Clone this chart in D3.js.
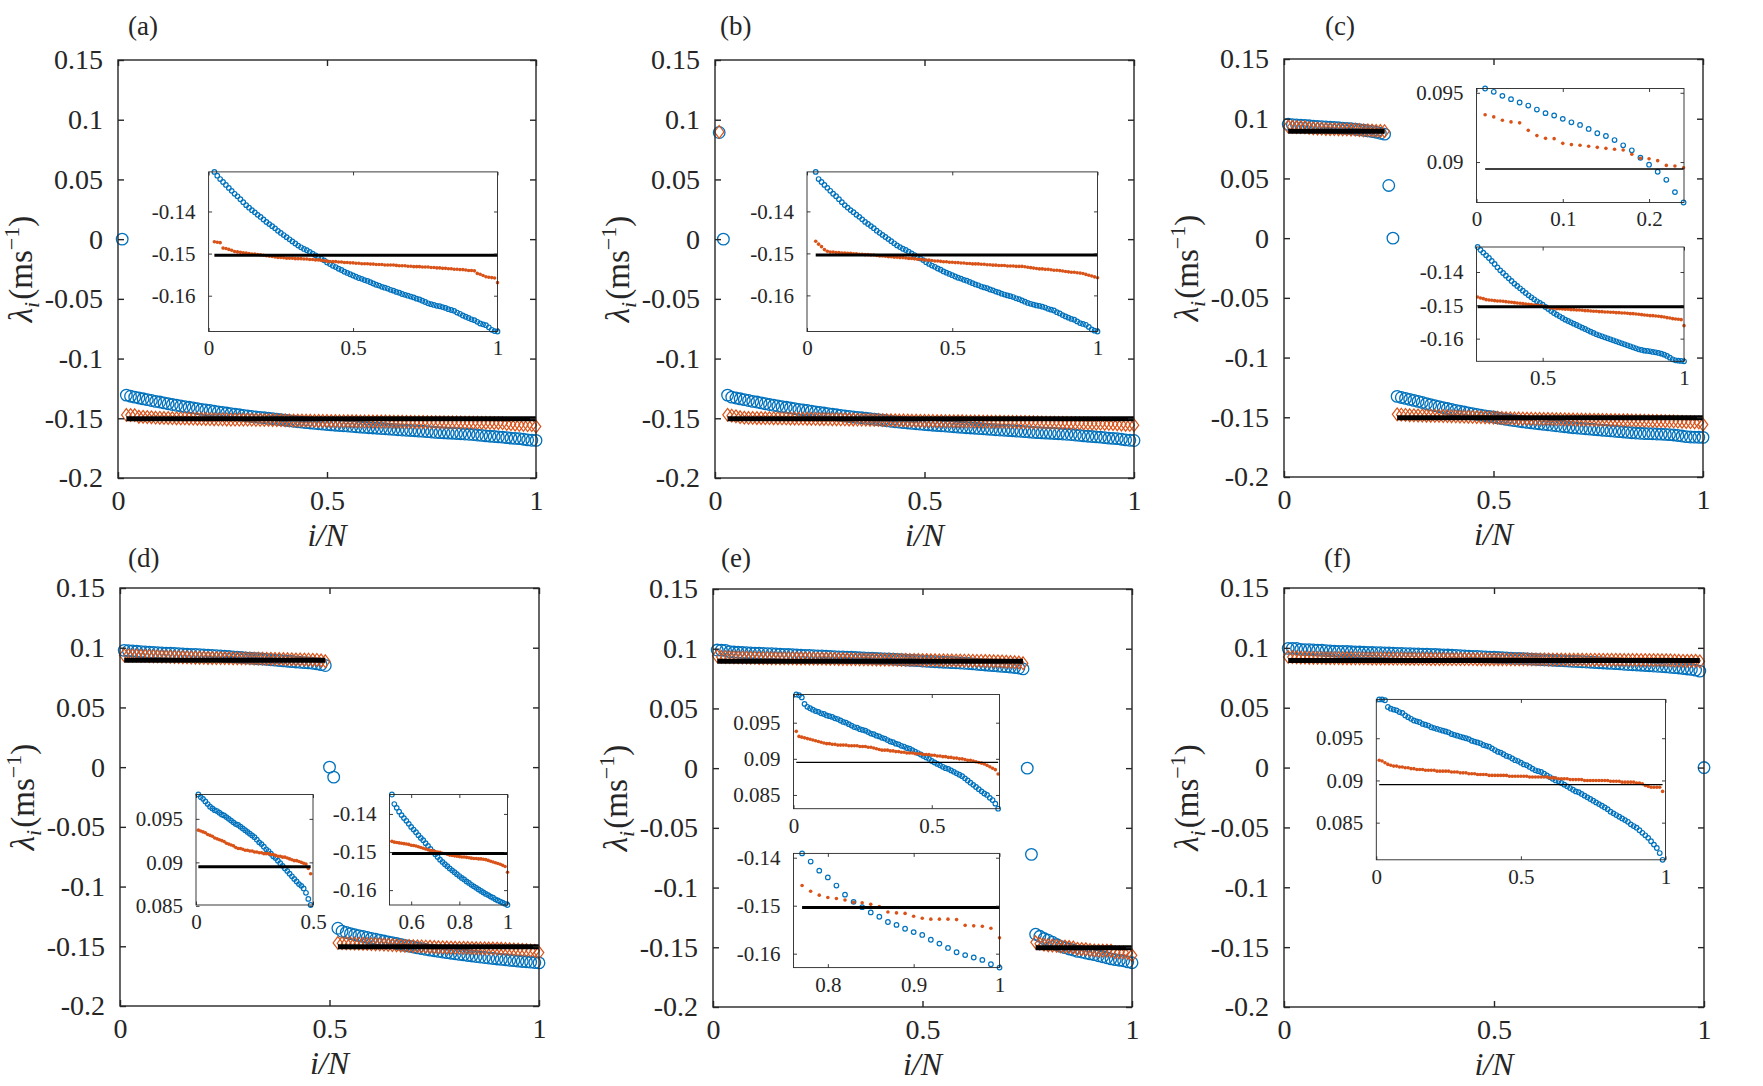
<!DOCTYPE html>
<html><head><meta charset="utf-8">
<script src="https://cdn.jsdelivr.net/npm/d3@7"></script>
<style>
body{margin:0;background:#fff;}
svg{display:block;font-family:'Liberation Serif', 'DejaVu Serif', serif;}
svg text{font-family:'Liberation Serif', 'DejaVu Serif', serif !important;}
</style></head><body>
<svg id="chart" width="1763" height="1086"></svg>
<script>
// ---------------- DATA ----------------
const N = 100;                       // number of eigenvalues; x = i/N
const mainYTicks = [0.15, 0.1, 0.05, 0, -0.05, -0.1, -0.15, -0.2];
const mainYTickLabels = ["0.15", "0.1", "0.05", "0", "-0.05", "-0.1", "-0.15", "-0.2"];
const mainXTicks = [0, 0.5, 1];
const mainXTickLabels = ["0", "0.5", "1"];
const panelLabels = ["(a)", "(b)", "(c)", "(d)", "(e)", "(f)"];
const levelPos = 0.0895;   // black reference line, positive branch
const levelNeg = -0.1504;  // black reference line, negative branch

// (a) negative branch, i = 2..100
const aBlueNeg = [-0.1306,-0.1315,-0.1323,-0.1330,-0.1337,-0.1344,-0.1351,-0.1358,-0.1364,-0.1371,
-0.1378,-0.1385,-0.1391,-0.1397,-0.1402,-0.1408,-0.1413,-0.1419,-0.1425,-0.1430,
-0.1435,-0.1440,-0.1446,-0.1451,-0.1456,-0.1461,-0.1466,-0.1471,-0.1476,-0.1481,
-0.1485,-0.1489,-0.1492,-0.1496,-0.1500,-0.1504,-0.1508,-0.1512,-0.1516,-0.1521,
-0.1525,-0.1529,-0.1532,-0.1536,-0.1539,-0.1543,-0.1546,-0.1549,-0.1552,-0.1555,
-0.1558,-0.1560,-0.1563,-0.1565,-0.1568,-0.1571,-0.1574,-0.1576,-0.1579,-0.1581,
-0.1583,-0.1586,-0.1588,-0.1591,-0.1593,-0.1596,-0.1598,-0.1600,-0.1602,-0.1604,
-0.1607,-0.1609,-0.1612,-0.1615,-0.1618,-0.1620,-0.1622,-0.1624,-0.1625,-0.1627,
-0.1629,-0.1632,-0.1634,-0.1636,-0.1640,-0.1643,-0.1647,-0.1650,-0.1653,-0.1656,
-0.1658,-0.1662,-0.1666,-0.1668,-0.1670,-0.1675,-0.1681,-0.1684,-0.1685];
const aOrangeNeg = [-0.1472,-0.1473,-0.1474,-0.1487,-0.1488,-0.1490,-0.1492,-0.1495,-0.1496,-0.1497,
-0.1498,-0.1499,-0.1500,-0.1501,-0.1501,-0.1502,-0.1503,-0.1504,-0.1505,-0.1506,
-0.1507,-0.1508,-0.1509,-0.1509,-0.1510,-0.1511,-0.1511,-0.1511,-0.1512,-0.1512,
-0.1512,-0.1513,-0.1513,-0.1514,-0.1514,-0.1515,-0.1515,-0.1516,-0.1517,-0.1518,
-0.1519,-0.1519,-0.1519,-0.1520,-0.1520,-0.1521,-0.1521,-0.1522,-0.1522,-0.1523,
-0.1523,-0.1524,-0.1524,-0.1524,-0.1525,-0.1525,-0.1526,-0.1526,-0.1526,-0.1527,
-0.1527,-0.1527,-0.1527,-0.1528,-0.1529,-0.1529,-0.1529,-0.1530,-0.1530,-0.1531,
-0.1531,-0.1531,-0.1532,-0.1532,-0.1532,-0.1533,-0.1533,-0.1534,-0.1534,-0.1535,
-0.1535,-0.1536,-0.1536,-0.1537,-0.1537,-0.1538,-0.1538,-0.1539,-0.1540,-0.1540,
-0.1541,-0.1547,-0.1549,-0.1552,-0.1555,-0.1556,-0.1557,-0.1558,-0.1569];
const aExtraI = [1];     // isolated blue eigenvalues (index i)
const aExtraV = [0];

// (b) positive branch i = 1, negative branch i = 3..100
const bBluePos = [0.0893];
const bOrangePos = [0.0898];
const bBlueNeg = [-0.1306,-0.1323,-0.1330,-0.1337,-0.1344,-0.1351,-0.1358,-0.1364,-0.1371,-0.1378,
-0.1385,-0.1391,-0.1397,-0.1402,-0.1408,-0.1413,-0.1419,-0.1425,-0.1430,-0.1435,
-0.1440,-0.1446,-0.1451,-0.1456,-0.1461,-0.1466,-0.1471,-0.1476,-0.1481,-0.1485,
-0.1489,-0.1492,-0.1496,-0.1500,-0.1504,-0.1508,-0.1512,-0.1516,-0.1521,-0.1525,
-0.1529,-0.1532,-0.1536,-0.1539,-0.1543,-0.1546,-0.1549,-0.1552,-0.1555,-0.1558,
-0.1560,-0.1563,-0.1565,-0.1568,-0.1571,-0.1574,-0.1576,-0.1579,-0.1581,-0.1583,
-0.1586,-0.1588,-0.1591,-0.1593,-0.1596,-0.1598,-0.1600,-0.1602,-0.1604,-0.1607,
-0.1609,-0.1612,-0.1615,-0.1618,-0.1620,-0.1622,-0.1624,-0.1625,-0.1627,-0.1629,
-0.1632,-0.1634,-0.1636,-0.1640,-0.1643,-0.1647,-0.1650,-0.1653,-0.1656,-0.1658,
-0.1662,-0.1666,-0.1668,-0.1670,-0.1675,-0.1681,-0.1684,-0.1686];
const bOrangeNeg = [-0.1471,-0.1478,-0.1484,-0.1491,-0.1495,-0.1497,-0.1497,-0.1498,-0.1498,-0.1499,
-0.1499,-0.1500,-0.1500,-0.1501,-0.1501,-0.1502,-0.1502,-0.1503,-0.1503,-0.1504,
-0.1504,-0.1505,-0.1506,-0.1506,-0.1507,-0.1508,-0.1508,-0.1509,-0.1509,-0.1510,
-0.1510,-0.1511,-0.1512,-0.1512,-0.1513,-0.1514,-0.1514,-0.1515,-0.1516,-0.1516,
-0.1517,-0.1518,-0.1518,-0.1519,-0.1520,-0.1520,-0.1521,-0.1521,-0.1522,-0.1522,
-0.1523,-0.1523,-0.1524,-0.1524,-0.1525,-0.1525,-0.1525,-0.1526,-0.1526,-0.1527,
-0.1527,-0.1528,-0.1528,-0.1529,-0.1529,-0.1529,-0.1530,-0.1530,-0.1530,-0.1531,
-0.1531,-0.1531,-0.1532,-0.1533,-0.1534,-0.1535,-0.1536,-0.1537,-0.1537,-0.1538,
-0.1538,-0.1539,-0.1540,-0.1540,-0.1541,-0.1542,-0.1543,-0.1544,-0.1545,-0.1545,
-0.1546,-0.1547,-0.1548,-0.1550,-0.1552,-0.1554,-0.1556,-0.1558];
const bExtraI = [2];
const bExtraV = [0];

// (c) positive branch i = 1..24, negative branch i = 27..100
const cBluePos = [0.09531,0.09507,0.09478,0.09454,0.09430,0.09408,0.09379,0.09353,0.09336,0.09312,
0.09287,0.09268,0.09239,0.09208,0.09188,0.09159,0.09121,0.09085,0.09031,0.08981,
0.08930,0.08872,0.08783,0.08708];
const cOrangePos = [0.09341,0.09326,0.09302,0.09290,0.09283,0.09229,0.09191,0.09171,0.09169,0.09135,
0.09126,0.09121,0.09114,0.09106,0.09099,0.09092,0.09087,0.09056,0.09027,0.09024,
0.09010,0.08976,0.08971,0.08959];
const cBlueNeg = [-0.1325,-0.1334,-0.1342,-0.1350,-0.1358,-0.1367,-0.1376,-0.1386,-0.1395,-0.1403,
-0.1411,-0.1419,-0.1427,-0.1435,-0.1442,-0.1449,-0.1456,-0.1463,-0.1470,-0.1476,
-0.1482,-0.1488,-0.1493,-0.1498,-0.1505,-0.1511,-0.1517,-0.1523,-0.1528,-0.1533,
-0.1538,-0.1543,-0.1547,-0.1551,-0.1555,-0.1559,-0.1563,-0.1567,-0.1571,-0.1575,
-0.1579,-0.1583,-0.1587,-0.1590,-0.1593,-0.1596,-0.1599,-0.1602,-0.1605,-0.1608,
-0.1611,-0.1614,-0.1617,-0.1620,-0.1623,-0.1626,-0.1629,-0.1632,-0.1634,-0.1636,
-0.1637,-0.1638,-0.1640,-0.1641,-0.1643,-0.1645,-0.1648,-0.1652,-0.1657,-0.1662,
-0.1665,-0.1666,-0.1667,-0.1668];
const cOrangeNeg = [-0.1475,-0.1478,-0.1480,-0.1483,-0.1484,-0.1485,-0.1486,-0.1487,-0.1487,-0.1488,
-0.1489,-0.1490,-0.1491,-0.1492,-0.1493,-0.1494,-0.1495,-0.1496,-0.1497,-0.1498,
-0.1499,-0.1500,-0.1501,-0.1502,-0.1504,-0.1506,-0.1508,-0.1509,-0.1510,-0.1510,
-0.1511,-0.1512,-0.1512,-0.1513,-0.1513,-0.1514,-0.1514,-0.1515,-0.1516,-0.1516,
-0.1517,-0.1518,-0.1518,-0.1519,-0.1519,-0.1520,-0.1520,-0.1521,-0.1521,-0.1522,
-0.1522,-0.1523,-0.1523,-0.1524,-0.1525,-0.1525,-0.1526,-0.1527,-0.1528,-0.1529,
-0.1530,-0.1531,-0.1531,-0.1532,-0.1533,-0.1534,-0.1535,-0.1537,-0.1538,-0.1540,
-0.1541,-0.1542,-0.1543,-0.1561];
const cExtraI = [25, 26];
const cExtraV = [0.0441, 0];

// (d) positive branch i = 1..49, negative branch i = 52..100
const dBluePos = [0.0978,0.0975,0.0973,0.0970,0.0967,0.0964,0.0962,0.0960,0.0959,0.0957,
0.0955,0.0954,0.0952,0.0950,0.0948,0.0946,0.0944,0.0943,0.0941,0.0939,
0.0937,0.0935,0.0933,0.0931,0.0929,0.0926,0.0923,0.0921,0.0918,0.0915,
0.0913,0.0910,0.0907,0.0905,0.0902,0.0899,0.0896,0.0893,0.0890,0.0887,
0.0884,0.0881,0.0878,0.0875,0.0873,0.0870,0.0865,0.0858,0.0851];
const dOrangePos = [0.0937,0.0936,0.0935,0.0934,0.0932,0.0931,0.0930,0.0928,0.0927,0.0926,
0.0925,0.0924,0.0922,0.0921,0.0920,0.0919,0.0917,0.0916,0.0916,0.0915,
0.0914,0.0914,0.0913,0.0913,0.0912,0.0912,0.0911,0.0911,0.0910,0.0910,
0.0910,0.0909,0.0909,0.0908,0.0907,0.0907,0.0906,0.0906,0.0905,0.0904,
0.0903,0.0902,0.0902,0.0901,0.0900,0.0899,0.0898,0.0893,0.0887];
const dBlueNeg = [-0.1349,-0.1374,-0.1384,-0.1394,-0.1403,-0.1411,-0.1418,-0.1426,-0.1434,-0.1441,
-0.1448,-0.1456,-0.1463,-0.1469,-0.1477,-0.1484,-0.1492,-0.1499,-0.1506,-0.1513,
-0.1520,-0.1526,-0.1532,-0.1537,-0.1543,-0.1548,-0.1553,-0.1558,-0.1563,-0.1568,
-0.1572,-0.1577,-0.1581,-0.1586,-0.1590,-0.1594,-0.1598,-0.1602,-0.1606,-0.1610,
-0.1613,-0.1617,-0.1620,-0.1624,-0.1627,-0.1630,-0.1633,-0.1636,-0.1639];
const dOrangeNeg = [-0.1472,-0.1474,-0.1475,-0.1476,-0.1477,-0.1478,-0.1479,-0.1480,-0.1482,-0.1483,
-0.1484,-0.1486,-0.1488,-0.1490,-0.1492,-0.1494,-0.1496,-0.1497,-0.1499,-0.1500,
-0.1501,-0.1503,-0.1504,-0.1506,-0.1508,-0.1509,-0.1510,-0.1511,-0.1512,-0.1513,
-0.1513,-0.1514,-0.1515,-0.1516,-0.1517,-0.1517,-0.1518,-0.1518,-0.1519,-0.1520,
-0.1522,-0.1524,-0.1526,-0.1528,-0.1530,-0.1532,-0.1535,-0.1538,-0.1553];
const dExtraI = [50, 51];
const dExtraV = [0, -0.0084];

// (e) positive branch i = 1..74, negative branch i = 77..100
const eBluePos = [0.0989,0.0988,0.0985,0.0976,0.0972,0.0970,0.0968,0.0966,0.0965,0.0963,
0.0962,0.0960,0.0959,0.0958,0.0956,0.0955,0.0953,0.0951,0.0950,0.0948,
0.0946,0.0944,0.0943,0.0941,0.0940,0.0939,0.0937,0.0935,0.0934,0.0932,
0.0931,0.0929,0.0928,0.0926,0.0924,0.0923,0.0921,0.0920,0.0918,0.0917,
0.0915,0.0914,0.0912,0.0910,0.0908,0.0906,0.0904,0.0902,0.0900,0.0897,
0.0895,0.0893,0.0891,0.0889,0.0887,0.0886,0.0884,0.0882,0.0880,0.0878,
0.0876,0.0873,0.0870,0.0867,0.0864,0.0861,0.0858,0.0855,0.0852,0.0850,
0.0846,0.0843,0.0838,0.0831];
const eOrangePos = [0.0938,0.0931,0.0930,0.0929,0.0928,0.0927,0.0926,0.0925,0.0924,0.0923,
0.0922,0.0921,0.0921,0.0920,0.0920,0.0919,0.0919,0.0919,0.0919,0.0918,
0.0918,0.0918,0.0918,0.0917,0.0917,0.0917,0.0916,0.0916,0.0915,0.0914,
0.0913,0.0912,0.0912,0.0912,0.0911,0.0911,0.0910,0.0910,0.0909,0.0909,
0.0908,0.0908,0.0908,0.0907,0.0907,0.0907,0.0906,0.0906,0.0906,0.0905,
0.0905,0.0904,0.0904,0.0903,0.0903,0.0902,0.0902,0.0901,0.0901,0.0900,
0.0900,0.0899,0.0898,0.0898,0.0897,0.0896,0.0895,0.0894,0.0893,0.0891,
0.0889,0.0887,0.0885,0.0879];
const eBlueNeg = [-0.1391,-0.1408,-0.1427,-0.1441,-0.1458,-0.1477,-0.1492,-0.1503,-0.1514,-0.1523,
-0.1534,-0.1540,-0.1548,-0.1555,-0.1561,-0.1571,-0.1579,-0.1588,-0.1597,-0.1603,
-0.1608,-0.1613,-0.1622,-0.1629];
const eOrangeNeg = [-0.1458,-0.1470,-0.1478,-0.1483,-0.1485,-0.1488,-0.1493,-0.1494,-0.1497,-0.1502,
-0.1513,-0.1515,-0.1516,-0.1522,-0.1526,-0.1528,-0.1528,-0.1528,-0.1529,-0.1541,
-0.1542,-0.1543,-0.1547,-0.1567];
const eExtraI = [75, 76];
const eExtraV = [0, -0.0722];

// (f) positive branch i = 1..99
const fBluePos = [0.0996,0.0996,0.0995,0.0987,0.0985,0.0984,0.0983,0.0981,0.0980,0.0977,
0.0975,0.0973,0.0971,0.0970,0.0969,0.0967,0.0966,0.0965,0.0963,0.0962,
0.0961,0.0960,0.0959,0.0958,0.0957,0.0955,0.0954,0.0953,0.0952,0.0951,
0.0950,0.0949,0.0947,0.0946,0.0945,0.0944,0.0942,0.0941,0.0940,0.0938,
0.0936,0.0934,0.0933,0.0931,0.0929,0.0928,0.0926,0.0924,0.0923,0.0921,
0.0919,0.0918,0.0916,0.0914,0.0912,0.0911,0.0910,0.0908,0.0906,0.0904,
0.0902,0.0900,0.0899,0.0897,0.0895,0.0893,0.0891,0.0889,0.0887,0.0886,
0.0884,0.0882,0.0880,0.0878,0.0876,0.0874,0.0872,0.0870,0.0868,0.0866,
0.0863,0.0861,0.0859,0.0857,0.0855,0.0853,0.0851,0.0848,0.0846,0.0844,
0.0841,0.0838,0.0835,0.0832,0.0828,0.0824,0.0820,0.0814,0.0806];
const fOrangePos = [0.0924,0.0923,0.0921,0.0919,0.0918,0.0917,0.0917,0.0916,0.0916,0.0915,
0.0915,0.0914,0.0914,0.0913,0.0913,0.0913,0.0912,0.0912,0.0912,0.0912,
0.0911,0.0911,0.0911,0.0911,0.0911,0.0910,0.0910,0.0910,0.0909,0.0909,
0.0909,0.0908,0.0908,0.0908,0.0907,0.0907,0.0907,0.0907,0.0906,0.0906,
0.0906,0.0906,0.0906,0.0906,0.0906,0.0905,0.0905,0.0905,0.0905,0.0905,
0.0905,0.0905,0.0904,0.0904,0.0904,0.0904,0.0904,0.0904,0.0904,0.0903,
0.0903,0.0903,0.0902,0.0902,0.0902,0.0902,0.0901,0.0901,0.0901,0.0901,
0.0901,0.0900,0.0900,0.0900,0.0900,0.0900,0.0900,0.0900,0.0900,0.0900,
0.0899,0.0899,0.0899,0.0899,0.0898,0.0898,0.0898,0.0898,0.0898,0.0897,
0.0897,0.0896,0.0894,0.0893,0.0892,0.0892,0.0892,0.0892,0.0887];
const fExtraI = [100];
const fExtraV = [0];

// ---------------- LAYOUT ----------------
const BLUE = "#0072BD", ORANGE = "#D95319", INK = "#262626";
const FONT = "Liberation Serif, DejaVu Serif, serif";

const panels = [
  { box:[118,60,536,478], lab:[128,35],
    groups:[{start:2, blue:aBlueNeg, orange:aOrangeNeg, level:levelNeg}],
    extraI:aExtraI, extraV:aExtraV,
    insets:[{box:[208.6,171.9,497.5,331.5], g:0, xDom:[0,1], xT:[0,0.5,1], xL:["0","0.5","1"],
             yT:[-0.14,-0.15,-0.16], yL:["-0.14","-0.15","-0.16"], lw:3}] },
  { box:[715,60,1134,478], lab:[720,35],
    groups:[{start:1, blue:bBluePos, orange:bOrangePos, level:null},
            {start:3, blue:bBlueNeg, orange:bOrangeNeg, level:levelNeg}],
    extraI:bExtraI, extraV:bExtraV,
    insets:[{box:[807,171.9,1097.5,331.5], g:1, xDom:[0,1], xT:[0,0.5,1], xL:["0","0.5","1"],
             yT:[-0.14,-0.15,-0.16], yL:["-0.14","-0.15","-0.16"], lw:3}] },
  { box:[1284,59,1703,477], lab:[1325,35],
    groups:[{start:1, blue:cBluePos, orange:cOrangePos, level:levelPos},
            {start:27, blue:cBlueNeg, orange:cOrangeNeg, level:levelNeg}],
    extraI:cExtraI, extraV:cExtraV,
    insets:[{box:[1476.5,88.5,1684,202.5], g:0, xDom:[0,0.2405], xT:[0,0.1,0.2], xL:["0","0.1","0.2"],
             yT:[0.09,0.095], yL:["0.09","0.095"], lw:1.3},
            {box:[1476.5,247,1684,361.3], g:1, xDom:[0.266,1], xT:[0.5,1], xL:["0.5","1"],
             yT:[-0.14,-0.15,-0.16], yL:["-0.14","-0.15","-0.16"], lw:3}] },
  { box:[120,588,539,1006], lab:[128,567],
    groups:[{start:1, blue:dBluePos, orange:dOrangePos, level:levelPos},
            {start:52, blue:dBlueNeg, orange:dOrangeNeg, level:levelNeg}],
    extraI:dExtraI, extraV:dExtraV,
    insets:[{box:[196,794.5,313,905], g:0, xDom:[0,0.5], xT:[0,0.5], xL:["0","0.5"],
             yT:[0.085,0.09,0.095], yL:["0.085","0.09","0.095"], lw:3},
            {box:[389.5,794.5,507.5,905], g:1, xDom:[0.51,1], xT:[0.6,0.8,1], xL:["0.6","0.8","1"],
             yT:[-0.14,-0.15,-0.16], yL:["-0.14","-0.15","-0.16"], lw:3}] },
  { box:[713,589,1132,1007], lab:[721,567],
    groups:[{start:1, blue:eBluePos, orange:eOrangePos, level:levelPos},
            {start:77, blue:eBlueNeg, orange:eOrangeNeg, level:levelNeg}],
    extraI:eExtraI, extraV:eExtraV,
    insets:[{box:[793.5,694.5,999.5,808.7], g:0, xDom:[0,0.745], xT:[0,0.5], xL:["0","0.5"],
             yT:[0.085,0.09,0.095], yL:["0.085","0.09","0.095"], lw:1.3},
            {box:[793.5,853.4,999.5,967.6], g:1, xDom:[0.76,1], xT:[0.8,0.9,1], xL:["0.8","0.9","1"],
             yT:[-0.14,-0.15,-0.16], yL:["-0.14","-0.15","-0.16"], lw:3}] },
  { box:[1284,588,1704,1007], lab:[1324,567],
    groups:[{start:1, blue:fBluePos, orange:fOrangePos, level:levelPos}],
    extraI:fExtraI, extraV:fExtraV,
    insets:[{box:[1376.3,699.4,1665.5,859.8], g:0, xDom:[0,1], xT:[0,0.5,1], xL:["0","0.5","1"],
             yT:[0.085,0.09,0.095], yL:["0.085","0.09","0.095"], lw:1.3}] }
];

// ---------------- DRAWING ----------------
const svg = d3.select("#chart").attr("font-family", FONT);

function styleAxis(sel, fs, sw) {
  sel.attr("font-family", FONT).attr("font-size", fs);
  sel.select(".domain").remove();
  sel.selectAll(".tick line").attr("stroke", INK).attr("stroke-width", sw);
  sel.selectAll(".tick text").attr("fill", INK);
}

function frame(g, x, y, w, h, o) {
  g.append("g").attr("transform", `translate(0,${h})`)
    .call(d3.axisBottom(x).tickValues(o.xT).tickFormat((d, i) => o.xL[i])
      .tickSizeInner(-o.tick).tickSizeOuter(0).tickPadding(o.xPad))
    .call(s => styleAxis(s, o.fs, o.sw));
  g.append("g")
    .call(d3.axisTop(x).tickValues(o.xT).tickFormat("").tickSizeInner(-o.tick).tickSizeOuter(0))
    .call(s => styleAxis(s, o.fs, o.sw));
  g.append("g")
    .call(d3.axisLeft(y).tickValues(o.yT).tickFormat((d, i) => o.yL[i])
      .tickSizeInner(-o.tick).tickSizeOuter(0).tickPadding(o.yPad))
    .call(s => styleAxis(s, o.fs, o.sw));
  g.append("g").attr("transform", `translate(${w},0)`)
    .call(d3.axisRight(y).tickValues(o.yT).tickFormat("").tickSizeInner(-o.tick).tickSizeOuter(0))
    .call(s => styleAxis(s, o.fs, o.sw));
  g.append("rect").attr("width", w).attr("height", h)
    .attr("fill", "none").attr("stroke", INK).attr("stroke-width", o.sw);
}

const pts = grp => grp.blue.map((v, k) => ({ i: grp.start + k, v }));
const opts = grp => grp.orange.map((v, k) => ({ i: grp.start + k, v }));
const diamond = (w, h) => `M0,${-h}L${w},0L0,${h}L${-w},0Z`;

panels.forEach((P, pi) => {
  const [x0, y0, x1, y1] = P.box;
  const w = x1 - x0, h = y1 - y0;
  const x = d3.scaleLinear().domain([0, 1]).range([0, w]);
  const y = d3.scaleLinear().domain([-0.2, 0.15]).range([h, 0]);
  const g = svg.append("g").attr("transform", `translate(${x0},${y0})`);

  const blueAll = [];
  P.groups.forEach(gr => blueAll.push(...pts(gr)));
  P.extraI.forEach((i, k) => blueAll.push({ i, v: P.extraV[k] }));
  g.append("g").selectAll("circle").data(blueAll).join("circle")
    .attr("cx", d => x(d.i / N)).attr("cy", d => y(d.v)).attr("r", 5.8)
    .attr("fill", "none").attr("stroke", BLUE).attr("stroke-width", 1.3);
  const orAll = [];
  P.groups.forEach(gr => orAll.push(...opts(gr)));
  g.append("g").selectAll("path").data(orAll).join("path")
    .attr("transform", d => `translate(${x(d.i / N)},${y(d.v)})`)
    .attr("d", diamond(4.8, 6.4))
    .attr("fill", "none").attr("stroke", ORANGE).attr("stroke-width", 1.2);
  P.groups.forEach(gr => {
    if (gr.level === null) return;
    g.append("line")
      .attr("x1", x(gr.start / N)).attr("x2", x((gr.start + gr.blue.length - 1) / N))
      .attr("y1", y(gr.level)).attr("y2", y(gr.level))
      .attr("stroke", "#000").attr("stroke-width", 5);
  });

  frame(g, x, y, w, h, { xT: mainXTicks, xL: mainXTickLabels, yT: mainYTicks, yL: mainYTickLabels,
    tick: 6, xPad: 12, yPad: 15, fs: 28, sw: 1.4 });

  // axis titles
  const yl = g.append("text").attr("transform", `translate(-86,${h / 2}) rotate(-90)`)
    .attr("text-anchor", "middle").attr("font-size", 33).attr("fill", INK);
  yl.append("tspan").attr("font-style", "italic").text("λ");
  yl.append("tspan").attr("font-style", "italic").attr("font-size", 22).attr("dy", 7).text("i");
  yl.append("tspan").attr("dy", -7).attr("dx", 2).text("(ms");
  yl.append("tspan").attr("font-size", 22).attr("dy", -13).text("−1");
  yl.append("tspan").attr("dy", 13).text(")");
  g.append("text").attr("x", w / 2).attr("y", h + 68)
    .attr("text-anchor", "middle").attr("font-size", 32).attr("fill", INK).attr("font-style", "italic")
    .text("i/N");

  svg.append("text").attr("x", P.lab[0]).attr("y", P.lab[1]).attr("font-size", 27)
    .attr("fill", INK).text(panelLabels[pi]);

  // insets
  P.insets.forEach(ins => {
    const [ix0, iy0, ix1, iy1] = ins.box;
    const iw = ix1 - ix0, ih = iy1 - iy0;
    const gr = P.groups[ins.g];
    const ix = d3.scaleLinear().domain(ins.xDom).range([0, iw]);
    const iy = d3.scaleLinear().domain(d3.extent(gr.blue)).range([ih, 0]);
    const ig = svg.append("g").attr("transform", `translate(${ix0},${iy0})`);
    ig.append("rect").attr("width", iw).attr("height", ih).attr("fill", "#fff");
    ig.append("g").selectAll("circle").data(pts(gr)).join("circle")
      .attr("cx", d => ix(d.i / N)).attr("cy", d => iy(d.v)).attr("r", 2.3)
      .attr("fill", "none").attr("stroke", BLUE).attr("stroke-width", 1.2);
    ig.append("g").selectAll("circle").data(opts(gr)).join("circle")
      .attr("cx", d => ix(d.i / N)).attr("cy", d => iy(d.v)).attr("r", 1.8)
      .attr("fill", ORANGE);
    ig.append("line")
      .attr("x1", ix(gr.start / N)).attr("x2", ix((gr.start + gr.blue.length - 1) / N))
      .attr("y1", iy(gr.level)).attr("y2", iy(gr.level))
      .attr("stroke", "#000").attr("stroke-width", ins.lw);
    frame(ig, ix, iy, iw, ih, { xT: ins.xT, xL: ins.xL, yT: ins.yT, yL: ins.yL,
      tick: 3.5, xPad: 9, yPad: 13, fs: 21, sw: 0.9 });
  });
});
</script>
</body></html>
